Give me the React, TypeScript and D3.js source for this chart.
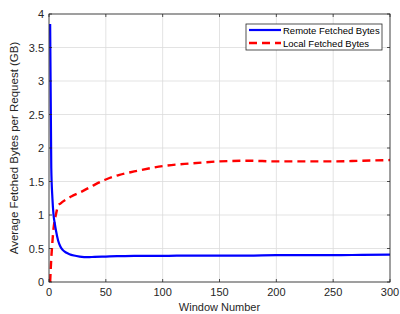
import React from "react";
import * as d3 from "d3";

const remoteX = [1, 2, 3, 4, 5, 6, 8, 10, 12, 15, 18, 22, 27, 34, 40, 50, 60, 75, 100, 125, 150, 175, 200, 225, 250, 275, 300];
const remoteY = [3.85, 1.7, 1.25, 1.0, 0.88, 0.78, 0.62, 0.53, 0.48, 0.44, 0.415, 0.395, 0.38, 0.37, 0.375, 0.38, 0.385, 0.39, 0.39, 0.395, 0.395, 0.395, 0.4, 0.4, 0.4, 0.405, 0.41];

const localX = [1, 2, 3, 4, 5, 6, 7, 8, 10, 15, 20, 25, 30, 40, 50, 62, 75, 100, 125, 150, 175, 200, 225, 250, 275, 300];
const localY = [0, 0.35, 0.6, 0.8, 0.92, 1.0, 1.08, 1.14, 1.17, 1.23, 1.28, 1.32, 1.36, 1.45, 1.53, 1.6, 1.65, 1.73, 1.77, 1.8, 1.81, 1.8, 1.8, 1.8, 1.81, 1.82];

const xTicks = [0, 50, 100, 150, 200, 250, 300];
const yTicks = [0, 0.5, 1, 1.5, 2, 2.5, 3, 3.5, 4];

const seriesNames = ["Remote Fetched Bytes", "Local Fetched Bytes"];

export default function App() {
  const W = 400, H = 314;
  const left = 49, right = 390, top = 14, bottom = 282;
  const x = d3.scaleLinear().domain([0, 300]).range([left, right]);
  const y = d3.scaleLinear().domain([0, 4]).range([bottom, top]);
  const line = d3
    .line<[number, number]>()
    .x((d) => x(d[0]))
    .y((d) => y(d[1]))
    .curve(d3.curveMonotoneX);
  const remote = line(remoteX.map((v, i) => [v, remoteY[i]] as [number, number])) || "";
  const local = line(localX.map((v, i) => [v, localY[i]] as [number, number])) || "";
  const font = "Liberation Sans, Arial, sans-serif";
  const axisColor = "#262626";
  return (
    <svg width={W} height={H} style={{ position: "absolute", left: 0, top: 0 }} fontFamily={font}>
      <rect x={0} y={0} width={W} height={H} fill="#fff" />
      {xTicks.map((t) => (
        <line key={"gx" + t} x1={x(t)} x2={x(t)} y1={top} y2={bottom} stroke="#dcdcdc" strokeWidth={0.8} />
      ))}
      {yTicks.map((t) => (
        <line key={"gy" + t} x1={left} x2={right} y1={y(t)} y2={y(t)} stroke="#dcdcdc" strokeWidth={0.8} />
      ))}
      <path d={local} fill="none" stroke="#ff0000" strokeWidth={2.4} strokeDasharray="8,5" />
      <path d={remote} fill="none" stroke="#0000ff" strokeWidth={2.2} />
      <rect x={left} y={top} width={right - left} height={bottom - top} fill="none" stroke={axisColor} strokeWidth={0.8} />
      {xTicks.map((t) => (
        <g key={"tx" + t}>
          <line x1={x(t)} x2={x(t)} y1={bottom} y2={bottom - 3} stroke={axisColor} strokeWidth={0.8} />
          <line x1={x(t)} x2={x(t)} y1={top} y2={top + 3} stroke={axisColor} strokeWidth={0.8} />
          <text x={x(t)} y={bottom + 14} fontSize={11} textAnchor="middle" fill={axisColor}>
            {t}
          </text>
        </g>
      ))}
      {yTicks.map((t) => (
        <g key={"ty" + t}>
          <line x1={left} x2={left + 3} y1={y(t)} y2={y(t)} stroke={axisColor} strokeWidth={0.8} />
          <line x1={right} x2={right - 3} y1={y(t)} y2={y(t)} stroke={axisColor} strokeWidth={0.8} />
          <text x={left - 5} y={y(t) + 4} fontSize={11} textAnchor="end" fill={axisColor}>
            {t}
          </text>
        </g>
      ))}
      <text x={(left + right) / 2} y={311} fontSize={11} textAnchor="middle" fill={axisColor}>
        Window Number
      </text>
      <text
        transform={`translate(${18},${(top + bottom) / 2}) rotate(-90)`}
        fontSize={11.5}
        textAnchor="middle"
        fill={axisColor}
      >
        Average Fetched Bytes per Request (GB)
      </text>
      <g>
        <rect x={246} y={24} width={136} height={26} fill="#fff" stroke={axisColor} strokeWidth={0.8} />
        <line x1={249} x2={281} y1={30} y2={30} stroke="#0000ff" strokeWidth={2.2} />
        <line x1={249} x2={281} y1={43} y2={43} stroke="#ff0000" strokeWidth={2.4} strokeDasharray="8,5" />
        <text x={283} y={33.5} fontSize={9.5} fill="#000">
          {seriesNames[0]}
        </text>
        <text x={283} y={46.5} fontSize={9.5} fill="#000">
          {seriesNames[1]}
        </text>
      </g>
    </svg>
  );
}
